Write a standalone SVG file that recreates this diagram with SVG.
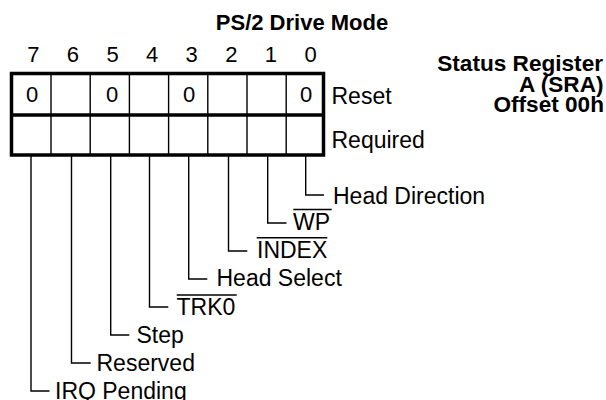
<svg xmlns="http://www.w3.org/2000/svg" width="606" height="400" viewBox="0 0 606 400">
<style>
text{font-family:"Liberation Sans",Arial,sans-serif;fill:#000}
.b{font-weight:bold;font-size:22px}
.s{font-weight:bold;font-size:22.6px;text-anchor:end}
.d{font-size:22px;text-anchor:middle}
.l{font-size:23px}
.thick{fill:none;stroke:#000;stroke-width:3.5}
.thin{fill:none;stroke:#000;stroke-width:1.4}
</style>
<rect width="606" height="400" fill="#fff"/>
<g id="title">
<text class="b" x="302" y="30" text-anchor="middle">PS/2 Drive Mode</text>
</g>
<g id="register-name">
<text class="s" x="603" y="71">Status Register</text>
<text class="s" x="603.5" y="91.5">A (SRA)</text>
<text class="s" x="604" y="112">Offset 00h</text>
</g>
<g id="bit-numbers">
<text class="d" x="33.3" y="62">7</text>
<text class="d" x="72.9" y="62">6</text>
<text class="d" x="112.5" y="62">5</text>
<text class="d" x="152.1" y="62">4</text>
<text class="d" x="191.7" y="62">3</text>
<text class="d" x="231.3" y="62">2</text>
<text class="d" x="270.9" y="62">1</text>
<text class="d" x="310.5" y="62">0</text>
</g>
<g id="register-table">
<rect class="thick" x="11.5" y="73.5" width="312" height="81.5"/>
<line class="thick" x1="11.5" y1="115" x2="323.5" y2="115"/>
<g class="thin">
<line x1="51" y1="73.5" x2="51" y2="155"/>
<line x1="90.2" y1="73.5" x2="90.2" y2="155"/>
<line x1="129.4" y1="73.5" x2="129.4" y2="155"/>
<line x1="168.6" y1="73.5" x2="168.6" y2="155"/>
<line x1="207.8" y1="73.5" x2="207.8" y2="155"/>
<line x1="247" y1="73.5" x2="247" y2="155"/>
<line x1="286.2" y1="73.5" x2="286.2" y2="155"/>
</g>
<text class="d" x="32" y="102">0</text>
<text class="d" x="112" y="102">0</text>
<text class="d" x="189" y="102">0</text>
<text class="d" x="306" y="102">0</text>
<text class="l" x="331.5" y="104">Reset</text>
<text class="l" x="331.5" y="148">Required</text>
</g>
<g id="connectors" class="thin">
<polyline points="305.7,155 305.7,195 324,195"/>
<polyline points="267.7,155 267.7,223 286.5,223"/>
<polyline points="228.5,155 228.5,251 247.3,251"/>
<polyline points="188.7,155 188.7,279 207.3,279"/>
<polyline points="149.5,155 149.5,307 168.3,307"/>
<polyline points="110.7,155 110.7,335 129.3,335"/>
<polyline points="71.5,155 71.5,363 90.7,363"/>
<polyline points="31,155 31,391 49.5,391"/>
</g>
<g id="bit0"><text class="l" x="333" y="204">Head Direction</text></g>
<g id="bit1"><text class="l" x="293" y="229.5">WP</text><line class="thin" x1="293.3" y1="209.5" x2="331.7" y2="209.5"/></g>
<g id="bit2"><text class="l" x="257" y="258">INDEX</text><line class="thin" x1="256.7" y1="237.7" x2="327.3" y2="237.7"/></g>
<g id="bit3"><text class="l" x="216.5" y="286">Head Select</text></g>
<g id="bit4"><text class="l" x="176.5" y="315">TRK0</text><line class="thin" x1="176.7" y1="295" x2="236.7" y2="295"/></g>
<g id="bit5"><text class="l" x="136.5" y="342.5">Step</text></g>
<g id="bit6"><text class="l" x="96.5" y="370.5">Reserved</text></g>
<g id="bit7"><text class="l" x="55" y="398.5">IRQ Pending</text></g>
</svg>
